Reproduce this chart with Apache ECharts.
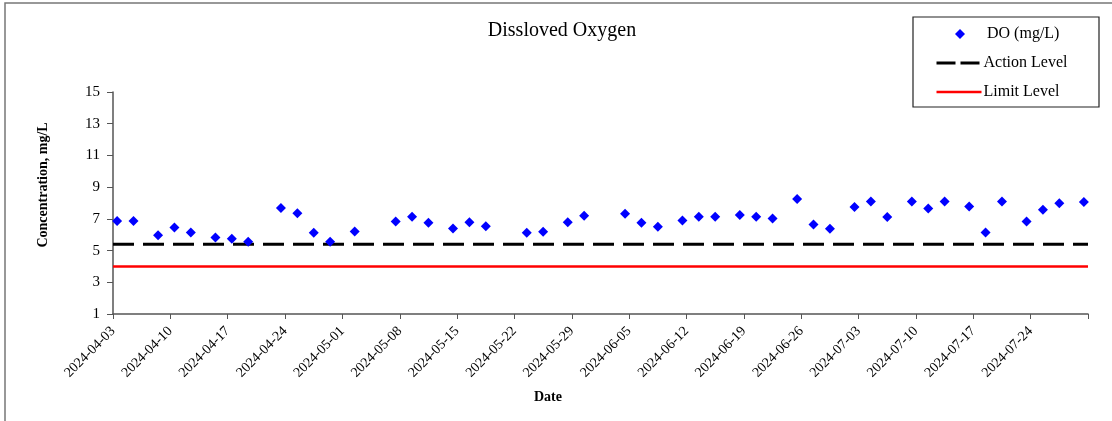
<!DOCTYPE html>
<html>
<head>
<meta charset="utf-8">
<script src="https://cdn.jsdelivr.net/npm/echarts@6/dist/echarts.min.js"></script>
<style>
  html, body { margin: 0; padding: 0; background: #fff; }
  #main { width: 1112px; height: 421px; }
</style>
</head>
<body>
<div id="main"></div>
<script>
// sample dates and dissolved oxygen readings (mg/L)
var sampleDates = [
  '2024-04-03', '2024-04-05', '2024-04-08', '2024-04-10', '2024-04-12', '2024-04-15',
  '2024-04-17', '2024-04-19', '2024-04-23', '2024-04-25', '2024-04-27', '2024-04-29',
  '2024-05-02', '2024-05-07', '2024-05-09', '2024-05-11', '2024-05-14', '2024-05-16',
  '2024-05-18', '2024-05-23', '2024-05-25', '2024-05-28', '2024-05-30', '2024-06-04',
  '2024-06-06', '2024-06-08', '2024-06-11', '2024-06-13', '2024-06-15', '2024-06-18',
  '2024-06-20', '2024-06-22', '2024-06-25', '2024-06-27', '2024-06-29', '2024-07-02',
  '2024-07-04', '2024-07-06', '2024-07-09', '2024-07-11', '2024-07-13', '2024-07-16',
  '2024-07-18', '2024-07-20', '2024-07-23', '2024-07-25', '2024-07-27', '2024-07-30'
];
var doValues = [
  6.87, 6.87, 5.97, 6.45, 6.14, 5.82,
  5.74, 5.55, 7.68, 7.36, 6.12, 5.55,
  6.2, 6.83, 7.13, 6.75, 6.39, 6.79,
  6.54, 6.12, 6.18, 6.79, 7.19, 7.32,
  6.75, 6.5, 6.89, 7.13, 7.13, 7.25,
  7.13, 7.02, 8.26, 6.64, 6.37, 7.74,
  8.09, 7.11, 8.09, 7.65, 8.09, 7.78,
  6.14, 8.09, 6.83, 7.57, 7.99, 8.07
];
var actionLevel = 5.4;
var limitLevel = 4;

// weekly ticks on the date axis
var tickLabels = [
  '2024-04-03', '2024-04-10', '2024-04-17', '2024-04-24', '2024-05-01', '2024-05-08',
  '2024-05-15', '2024-05-22', '2024-05-29', '2024-06-05', '2024-06-12', '2024-06-19',
  '2024-06-26', '2024-07-03', '2024-07-10', '2024-07-17', '2024-07-24', ''
];
var yTicks = [1, 3, 5, 7, 9, 11, 13, 15];

var startDay = Date.UTC(2024, 3, 3);
var lastDay = (tickLabels.length - 1) * 7;

function dayIndex(s) {
  var p = s.split('-');
  return Math.round((Date.UTC(+p[0], +p[1] - 1, +p[2]) - startDay) / 86400000);
}

// excel style date axis: each point sits in the middle of its day
var doData = [];
for (var i = 0; i < sampleDates.length; i++) {
  doData.push([dayIndex(sampleDates[i]) + 0.5, doValues[i]]);
}

var font = 'Liberation Serif, Times New Roman, serif';
var legendText = { fontFamily: font, fontSize: 16, color: '#000', lineHeight: 16 };
var chart = echarts.init(document.getElementById('main'), null, { renderer: 'canvas' });

var option = {
  backgroundColor: '#fff',
  animation: false,
  textStyle: { fontFamily: font, color: '#000' },
  grid: { left: 113, right: 24, top: 92, height: 222, containLabel: false },
  legend: [
    {
      // marker legend, text pushed right like the original
      orient: 'vertical',
      left: 950,
      top: 21,
      itemWidth: 10,
      itemHeight: 10,
      textStyle: Object.assign({ padding: [0, 0, 0, 17] }, legendText),
      data: ['DO (mg/L)']
    },
    {
      orient: 'vertical',
      left: 930,
      top: 50,
      itemWidth: 45,
      itemHeight: 10,
      itemGap: 13,
      textStyle: Object.assign({ padding: [0, 0, 0, -3] }, legendText),
      data: [
        { name: 'Action Level', itemStyle: { opacity: 0 }, lineStyle: { width: 3, type: [19, 5] } },
        { name: 'Limit Level', itemStyle: { opacity: 0 }, lineStyle: { width: 2.5 } }
      ]
    }
  ],
  xAxis: {
    type: 'value',
    min: 0,
    max: lastDay,
    interval: 7,
    splitLine: { show: false },
    axisLine: { lineStyle: { color: '#555', width: 1.5 } },
    axisTick: { length: 5, lineStyle: { color: '#555' } },
    axisLabel: {
      rotate: 45,
      margin: 15,
      fontFamily: font,
      fontSize: 14,
      color: '#000',
      showMaxLabel: true,
      formatter: function (v) { return tickLabels[Math.round(v / 7)] || ''; }
    }
  },
  yAxis: {
    type: 'value',
    min: yTicks[0],
    max: yTicks[yTicks.length - 1],
    interval: 2,
    splitLine: { show: false },
    axisLine: { show: true, lineStyle: { color: '#555', width: 1.5 } },
    axisTick: { show: true, length: 6, lineStyle: { color: '#555' } },
    axisLabel: { margin: 13, fontFamily: font, fontSize: 15, color: '#000' }
  },
  graphic: [
    {
      type: 'rect', silent: true, z: -1,
      shape: { x: 5, y: 3, width: 1300, height: 600 },
      style: { fill: null, stroke: '#777', lineWidth: 1.5 }
    },
    {
      type: 'rect', silent: true,
      shape: { x: 913, y: 17, width: 186, height: 90 },
      style: { fill: null, stroke: '#222', lineWidth: 1.2 }
    },
    {
      type: 'text', x: 562, y: 31,
      style: { text: 'Dissloved Oxygen', fontFamily: font, fontSize: 20, fill: '#000', align: 'center', verticalAlign: 'middle' }
    },
    {
      type: 'text', x: 548, y: 397,
      style: { text: 'Date', fontFamily: font, fontSize: 14, fontWeight: 'bold', fill: '#000', align: 'center', verticalAlign: 'middle' }
    },
    {
      type: 'text', x: 43, y: 185, rotation: Math.PI / 2,
      style: { text: 'Concentration, mg/L', fontFamily: font, fontSize: 14, fontWeight: 'bold', fill: '#000', align: 'center', verticalAlign: 'middle' }
    }
  ],
  series: [
    {
      name: 'DO (mg/L)',
      type: 'scatter',
      symbol: 'diamond',
      symbolSize: 10,
      itemStyle: { color: '#0000ff', opacity: 1 },
      data: doData,
      z: 5
    },
    {
      name: 'Action Level',
      type: 'line',
      symbol: 'none',
      lineStyle: { color: '#000', width: 3, type: [21, 9] },
      itemStyle: { color: '#000' },
      data: [[0, actionLevel], [lastDay, actionLevel]]
    },
    {
      name: 'Limit Level',
      type: 'line',
      symbol: 'none',
      lineStyle: { color: '#ff0000', width: 2.5 },
      itemStyle: { color: '#ff0000' },
      data: [[0, limitLevel], [lastDay, limitLevel]]
    }
  ]
};

chart.setOption(option);
</script>
</body>
</html>
